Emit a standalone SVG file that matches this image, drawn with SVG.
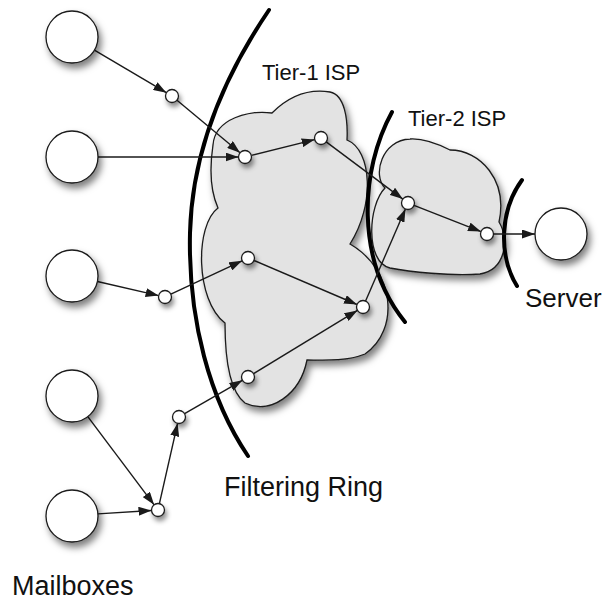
<svg xmlns="http://www.w3.org/2000/svg" width="605" height="605" viewBox="0 0 605 605">
<style>
.mb{fill:#fff;stroke:#1a1a1a;stroke-width:1.3;filter:url(#sh)}
.sn{fill:#fff;stroke:#1a1a1a;stroke-width:1.3;filter:url(#shs)}
.cloud{fill:#e3e3e3;stroke:#1a1a1a;stroke-width:1.3;filter:url(#sh)}
.ring{fill:none;stroke:#000;stroke-width:4;stroke-linecap:round}
.edge{stroke:#1a1a1a;stroke-width:1.4;fill:none;marker-end:url(#arr)}
.lbl{font-family:"Liberation Sans",Arial,Helvetica,sans-serif;fill:#111}
</style>
<defs>
<filter id="sh" x="-30%" y="-30%" width="170%" height="170%">
<feDropShadow dx="3" dy="5" stdDeviation="3.5" flood-color="#000" flood-opacity="0.5"/>
</filter>
<filter id="shs" x="-80%" y="-80%" width="300%" height="300%">
<feDropShadow dx="2" dy="4" stdDeviation="2.5" flood-color="#000" flood-opacity="0.45"/>
</filter>
<marker id="arr" viewBox="0 0 13 9" refX="13" refY="4.5" markerWidth="13" markerHeight="9" markerUnits="userSpaceOnUse" orient="auto">
<path d="M0,0 L13,4.5 L0,9 Z" fill="#1a1a1a"/>
</marker>
</defs>

<g id="tier1-cloud">
<path class="cloud" d="M 213 145 C 215 118, 250 110, 272 113 C 285 100, 305 88, 330 92 C 345 95, 348 120, 347 140 C 372 150, 375 205, 350 244 C 395 270, 400 330, 365 354 C 345 362, 320 360, 307 360 C 300 395, 270 415, 245 403 C 228 390, 225 350, 225 323 C 195 300, 195 225, 218 208 C 210 190, 210 165, 213 145 Z"/>
</g>
<g id="tier2-cloud">
<path class="cloud" d="M 385 188 C 372 175, 382 140, 410 139 C 425 138, 440 145, 450 150 C 480 150, 508 180, 499 222 C 510 240, 505 270, 480 274 C 450 276, 410 272, 390 268 C 365 262, 368 205, 385 188 Z"/>
</g>

<g id="rings">
<path id="filtering-ring" class="ring" d="M 269 10 C 225 75, 192 150, 190 233 C 188 320, 210 400, 248 456"/>
<path id="tier2-ring" class="ring" d="M 392 112 C 360 170, 355 260, 405 322"/>
<path id="server-ring" class="ring" d="M 522 180 C 500 210, 498 255, 517 286"/>
</g>

<g id="connectors">
<line class="edge" x1="94.4" y1="50.2" x2="166.4" y2="92.7"/>
<line class="edge" x1="177" y1="100.2" x2="240" y2="152.8"/>
<line class="edge" x1="98" y1="157" x2="238.5" y2="157"/>
<line class="edge" x1="251.3" y1="155.4" x2="314.7" y2="139.6"/>
<line class="edge" x1="326.2" y1="141.9" x2="402.8" y2="199.1"/>
<line class="edge" x1="414" y1="205.4" x2="481" y2="231.6"/>
<line class="edge" x1="493.5" y1="234" x2="535" y2="234"/>
<line class="edge" x1="97.4" y1="281.5" x2="158.6" y2="295.6"/>
<line class="edge" x1="170.9" y1="294.2" x2="242.1" y2="260.8"/>
<line class="edge" x1="254" y1="260.5" x2="357" y2="304.5"/>
<line class="edge" x1="365.6" y1="301" x2="405.4" y2="209"/>
<line class="edge" x1="253.6" y1="373.6" x2="357.4" y2="310.4"/>
<line class="edge" x1="184.6" y1="413.7" x2="242.4" y2="380.3"/>
<line class="edge" x1="159.4" y1="503.7" x2="177.6" y2="423.3"/>
<line class="edge" x1="87.8" y1="416.7" x2="154.1" y2="504.8"/>
<line class="edge" x1="97.9" y1="513.9" x2="151.5" y2="510.5"/>
</g>

<g id="mailbox1"><circle class="mb" cx="72" cy="37" r="26"/></g>
<g id="mailbox2"><circle class="mb" cx="72" cy="157" r="26"/></g>
<g id="mailbox3"><circle class="mb" cx="72" cy="276" r="26"/></g>
<g id="mailbox4"><circle class="mb" cx="72" cy="396" r="26"/></g>
<g id="mailbox5"><circle class="mb" cx="72" cy="516" r="26"/></g>
<g id="server"><circle class="mb" cx="561" cy="234" r="26"/></g>

<g id="n1"><circle class="sn" cx="172" cy="96" r="6.5"/></g>
<g id="n2"><circle class="sn" cx="245" cy="157" r="6.5"/></g>
<g id="n3"><circle class="sn" cx="321" cy="138" r="6.5"/></g>
<g id="n4"><circle class="sn" cx="408" cy="203" r="6.5"/></g>
<g id="n5"><circle class="sn" cx="487" cy="234" r="6.5"/></g>
<g id="n6"><circle class="sn" cx="248" cy="258" r="6.5"/></g>
<g id="n7"><circle class="sn" cx="363" cy="307" r="6.5"/></g>
<g id="n8"><circle class="sn" cx="248" cy="377" r="6.5"/></g>
<g id="n9"><circle class="sn" cx="165" cy="297" r="6.5"/></g>
<g id="n10"><circle class="sn" cx="179" cy="417" r="6.5"/></g>
<g id="n11"><circle class="sn" cx="158" cy="510" r="6.5"/></g>

<g id="labels">
<text class="lbl" x="262" y="80" font-size="22">Tier-1 ISP</text>
<text class="lbl" x="408" y="126" font-size="22">Tier-2 ISP</text>
<text class="lbl" x="525" y="307" font-size="26">Server</text>
<text class="lbl" x="224" y="496" font-size="27">Filtering Ring</text>
<text class="lbl" x="12" y="595" font-size="27">Mailboxes</text>
</g>
</svg>
